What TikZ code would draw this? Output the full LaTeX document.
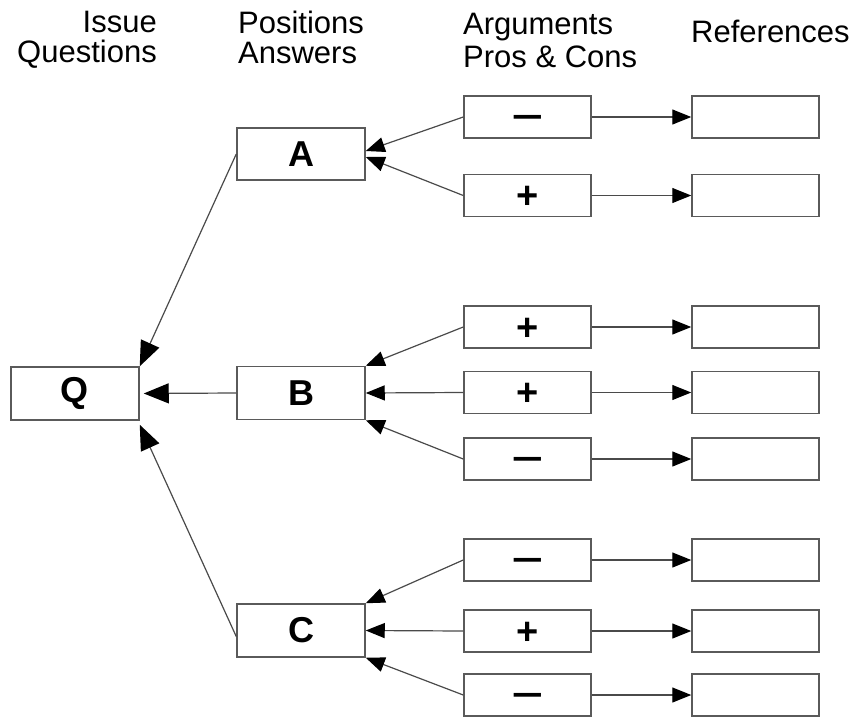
\documentclass[tikz,border=0pt]{standalone}
\usepackage{fontspec}
\setmainfont{Liberation Sans}
\usetikzlibrary{arrows.meta}
\definecolor{boxc}{HTML}{5A5A5A}
\definecolor{linec}{HTML}{4A4A4A}
\newcommand{\mn}{\raisebox{-0.28em}[0pt][0pt]{\scalebox{1.45}[1]{–}}}
\newcommand{\pl}{\raisebox{-0.35em}[0pt][0pt]{+}}
\begin{document}
\begin{tikzpicture}[x=1pt,y=-1pt,
 box/.style={draw=boxc, line width=1.5pt, rectangle, inner sep=0pt, minimum width=127pt, minimum height=42pt},
 posbox/.style={box, minimum width=128pt, minimum height=53pt, font=\fontsize{36}{36}\selectfont\bfseries},
 argbox/.style={box, font=\fontsize{38}{38}\selectfont\bfseries},
 hd/.style={inner sep=0pt, font=\fontsize{31}{31}\selectfont},
 link/.style={draw=linec, line width=1.2pt, -{Triangle[length=19pt,width=15pt,color=black]}},
 blink/.style={draw=linec, line width=1.2pt, -{Triangle[length=25pt,width=20pt,color=black]}},
]
\useasboundingbox (0,0) rectangle (857,717);

% headers
\node[hd, anchor=base east] (h1a) at (157,33) {Issue};
\node[hd, anchor=base east] (h1b) at (157,63) {Questions};
\node[hd, anchor=base west] (h2a) at (238,34) {Positions};
\node[hd, anchor=base west] (h2b) at (238,64) {Answers};
\node[hd, anchor=base west] (h3a) at (463,35) {Arguments};
\node[hd, anchor=base west] (h3b) at (463,67) {Pros \& Cons};
\node[hd, anchor=base west] (h4) at (691,43) {References};

% issue and positions
\node[posbox] (Q) at (75,393.5) {Q};
\node[posbox, minimum height=52pt] (A) at (301,154) {A};
\node[posbox] (B) at (301,393) {B};
\node[posbox] (C) at (301,630.5) {C};

% arguments
\node[argbox] (a1) at (527.5,117) {\mn};
\node[argbox] (a2) at (527.5,195.5) {\pl};
\node[argbox] (b1) at (527.5,327) {\pl};
\node[argbox] (b2) at (527.5,392.5) {\pl};
\node[argbox] (b3) at (527.5,459) {\mn};
\node[argbox] (c1) at (527.5,560) {\mn};
\node[argbox] (c2) at (527.5,631) {\pl};
\node[argbox] (c3) at (527.5,695) {\mn};

% references
\node[box] (ra1) at (755.5,117) {};
\node[box] (ra2) at (755.5,195.5) {};
\node[box] (rb1) at (755.5,327) {};
\node[box] (rb2) at (755.5,392.5) {};
\node[box] (rb3) at (755.5,459) {};
\node[box] (rc1) at (755.5,560) {};
\node[box] (rc2) at (755.5,631) {};
\node[box] (rc3) at (755.5,695) {};

% arguments to positions
\draw[link] (a1.west) -- ([yshift=3pt]A.east);
\draw[link] (a2.west) -- ([yshift=-3pt]A.east);
\draw[link] (b1.west) -- (B.north east);
\draw[link] (b2.west) -- (B.east);
\draw[link] (b3.west) -- (B.south east);
\draw[link] (c1.west) -- (C.north east);
\draw[link] (c2.west) -- (C.east);
\draw[link] (c3.west) -- (C.south east);

% arguments to references
\foreach \s/\t in {a1/ra1,a2/ra2,b1/rb1,b2/rb2,b3/rb3,c1/rc1,c2/rc2,c3/rc3}
  \draw[link] (\s.east) -- (\t.west);

% positions to issue
\draw[blink] (A.west) -- (Q.north east);
\draw[blink, shorten >=4pt] (B.west) -- (Q.east);
\draw[blink] ([yshift=-6pt]C.west) -- ([yshift=-4pt]Q.south east);
\end{tikzpicture}
\end{document}
